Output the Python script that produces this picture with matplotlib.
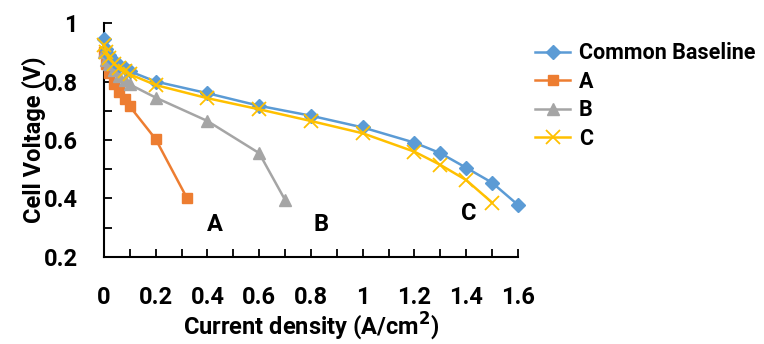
import numpy as np
import matplotlib
matplotlib.use('Agg')
import matplotlib.pyplot as plt
from matplotlib.ticker import MultipleLocator, FuncFormatter

# ── Data ─────────────────────────────────────────────────────────────────────
base_x = [0, 0.01, 0.02, 0.04, 0.06, 0.08, 0.1, 0.2, 0.4, 0.6, 0.8, 1.0, 1.2, 1.3, 1.4, 1.5, 1.6]
base_y = [0.945, 0.91, 0.89, 0.87, 0.855, 0.845, 0.835, 0.80, 0.76, 0.717, 0.683, 0.643,
          0.591, 0.555, 0.505, 0.454, 0.378]

a_x = [0, 0.01, 0.02, 0.04, 0.06, 0.08, 0.1, 0.2, 0.32]
a_y = [0.90, 0.86, 0.83, 0.79, 0.765, 0.74, 0.715, 0.603, 0.403]

b_x = [0, 0.01, 0.02, 0.04, 0.06, 0.08, 0.1, 0.2, 0.4, 0.6, 0.7]
b_y = [0.90, 0.875, 0.86, 0.84, 0.82, 0.805, 0.79, 0.745, 0.665, 0.555, 0.395]

c_x = [0, 0.01, 0.02, 0.04, 0.06, 0.08, 0.1, 0.2, 0.4, 0.6, 0.8, 1.0, 1.2, 1.3, 1.4, 1.5]
c_y = [0.925, 0.90, 0.88, 0.86, 0.845, 0.835, 0.825, 0.788, 0.743, 0.705, 0.665, 0.623,
       0.560, 0.515, 0.463, 0.386]

# in-plot curve labels: (text, x, y)
curve_labels = [('A', 0.43, 0.31), ('B', 0.84, 0.31), ('C', 1.41, 0.35)]

# ── Style ─────────────────────────────────────────────────────────────────────
plt.rcParams['font.family'] = ['Roboto', 'DejaVu Sans']
plt.rcParams['font.weight'] = 'bold'
FS = 17

BLUE, ORANGE, GRAY, GOLD = '#5B9BD5', '#ED7D31', '#A5A5A5', '#FFC000'

fig = plt.figure(figsize=(7.64, 3.44), dpi=100)
ax = fig.add_axes([0.136, 0.253, 0.542, 0.68])

ax.plot(base_x, base_y, '-D', color=BLUE, lw=1.8, ms=7, label='Common Baseline', clip_on=False, zorder=4)
ax.plot(a_x, a_y, '-s', color=ORANGE, lw=1.8, ms=7.5, label='A', clip_on=False, zorder=3)
ax.plot(b_x, b_y, '-^', color=GRAY, lw=1.8, ms=8.5, label='B', clip_on=False, zorder=3)
ax.plot(c_x, c_y, '-x', color=GOLD, lw=1.8, ms=9.5, mew=1.3, label='C', clip_on=False, zorder=5)

for txt, x, y in curve_labels:
    ax.text(x, y, txt, fontsize=FS, fontweight='bold', ha='center', va='center')

ax.set_xlim(0, 1.6)
ax.set_ylim(0.2, 1.0)
ax.spines['top'].set_visible(False)
ax.spines['right'].set_visible(False)
for s in ('left', 'bottom'):
    ax.spines[s].set_linewidth(1.5)

fmt = FuncFormatter(lambda v, _: f'{v:g}')
ax.xaxis.set_major_locator(MultipleLocator(0.2))
ax.xaxis.set_minor_locator(MultipleLocator(0.1))
ax.yaxis.set_major_locator(MultipleLocator(0.2))
ax.yaxis.set_minor_locator(MultipleLocator(0.1))
ax.xaxis.set_major_formatter(fmt)
ax.yaxis.set_major_formatter(fmt)
ax.tick_params(which='both', direction='in', length=6, width=1.3)
ax.tick_params(axis='x', which='major', pad=21, labelsize=FS)
ax.tick_params(axis='y', which='major', pad=19, labelsize=FS)

ax.set_xlabel('Current density (A/cm$^\\mathbf{2}$)', fontsize=FS, fontweight='bold', labelpad=1)
ax.set_ylabel('Cell Voltage (V)', fontsize=FS, fontweight='bold', labelpad=-2)

ax.legend(loc='upper left', bbox_to_anchor=(1.02, 0.955), frameon=False,
          prop={'size': 15.5, 'weight': 'bold'}, handlelength=1.65, handletextpad=0.4,
          labelspacing=0.3, borderaxespad=0)

fig.savefig('out.png', dpi=100)
